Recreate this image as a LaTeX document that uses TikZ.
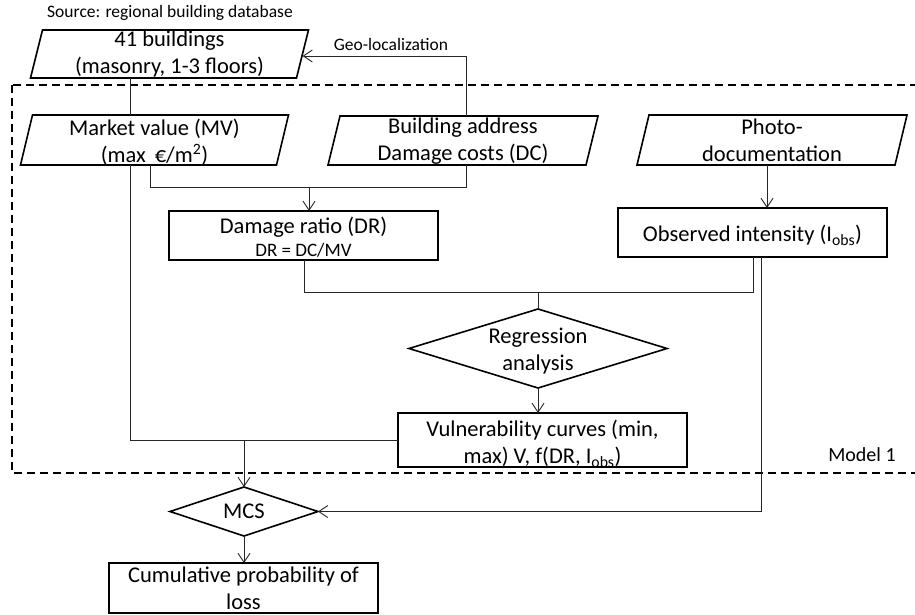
\documentclass[tikz,border=0pt]{standalone}
\usepackage{fontspec}
\setmainfont{Carlito}
\usetikzlibrary{arrows.meta}
\newcommand\fmain{\fontsize{22.5}{27}\selectfont}
\newcommand\fsmall{\fontsize{17.5}{20}\selectfont}
\newcommand\fdr{\fontsize{19}{23}\selectfont}
\newcommand\fmodel{\fontsize{20}{22}\selectfont}
\begin{document}
\begin{tikzpicture}[x=1pt,y=-1pt,
  boxline/.style={line width=1.6pt},
  conn/.style={line width=0.9pt, draw=black!85},
  arr/.style={-{Straight Barb[length=9pt,width=12pt,line width=0.9pt]}},
  frame/.style={line width=1.6pt, dash pattern=on 8pt off 5pt},
  btxt/.style={align=center, inner sep=0pt, outer sep=0pt, font=\fmain},
  pnode/.style={inner sep=0pt, outer sep=0pt},
  rbox/.style={draw, line width=1.6pt, inner sep=0pt, outer sep=0pt},
  dnode/.style={inner sep=0pt, outer sep=0pt},
  txt/.style={inner sep=0pt, outer sep=0pt}]
\useasboundingbox (0,0) rectangle (915,615);
\clip (0,0) rectangle (915,615);

% dashed model frame
\draw[frame] (12,85) rectangle (935,473);

% nodes
\node[txt, font=\fsmall] (src) at (170,13) {Source: regional building database};
\node[pnode, minimum width=266pt, minimum height=48pt,
  label={[btxt]center:{41 buildings\\(masonry, 1-3 floors)}}] (b41) at (169.5,54) {};
\node[pnode, minimum width=256pt, minimum height=50pt,
  label={[btxt,yshift=-2pt]center:{Market value (MV)\\(max \,€/m\textsuperscript{2})}}] (mv) at (154.5,140) {};
\node[pnode, minimum width=258pt, minimum height=49pt,
  label={[btxt,yshift=-1pt]center:{Building address\\Damage costs (DC)}}] (ba) at (463,140.5) {};
\node[pnode, minimum width=258pt, minimum height=50pt,
  label={[btxt]center:{Photo-\\documentation}}] (pd) at (772,140) {};
\node[rbox, minimum width=269pt, minimum height=49pt,
  label={[btxt,yshift=-2pt]center:{Damage ratio (DR)\\[-4pt]{\fdr DR = DC/MV}}}] (dr) at (303.5,235.5) {};
\node[rbox, minimum width=269pt, minimum height=49pt,
  label={[btxt,yshift=-3pt]center:{Observed intensity (I\textsubscript{obs})}}] (oi) at (752.5,232.5) {};
\node[dnode, minimum width=258pt, minimum height=79pt,
  label={[btxt,yshift=-3pt]center:{Regression\\analysis}}] (ra) at (538,348.5) {};
\node[rbox, minimum width=289pt, minimum height=54pt,
  label={[btxt,yshift=-3.5pt]center:{Vulnerability curves (min,\\max) V, f(DR, I\textsubscript{obs})}}] (vc) at (542.5,440) {};
\node[dnode, minimum width=148pt, minimum height=49pt,
  label={[btxt]center:{MCS}}] (mcs) at (244,511.5) {};
\node[rbox, minimum width=269pt, minimum height=50pt,
  label={[btxt]center:{Cumulative probability of\\loss}}] (cp) at (243.5,588) {};
\node[txt, font=\fsmall] (geo) at (391,44) {Geo-localization};
\node[txt, font=\fmodel] (m1) at (862,455) {Model 1};

% parallelograms and diamonds
\foreach \n in {b41,mv,ba,pd}
  \draw[boxline] ([xshift=6pt]\n.north west) -- ([xshift=6pt]\n.north east) -- ([xshift=-6pt]\n.south east) -- ([xshift=-6pt]\n.south west) -- cycle;
\foreach \n in {ra,mcs}
  \draw[boxline] (\n.north) -- (\n.east) -- (\n.south) -- (\n.west) -- cycle;

% helper coordinates
\coordinate (xa) at (130,0);
\coordinate (xb) at (150,0);
\coordinate (xc) at (466,0);
\coordinate (xd) at (309,0);
\coordinate (xe) at (304,0);
\coordinate (xf) at (753,0);
\coordinate (xg) at (761,0);
\coordinate (xh) at (767,0);
\coordinate (yg) at (0,56);
\coordinate (ym) at (0,187);
\coordinate (yr) at (0,292);

% connectors
\draw[conn] (b41.south -| xa) -- (mv.north -| xa);
\draw[conn,arr] (ba.north -| xc) -- (xc |- yg) -- (b41.east |- yg);
\draw[conn] (mv.south -| xb) -- (xb |- ym) -- (xc |- ym) -- (ba.south -| xc);
\draw[conn,arr] (xd |- ym) -- (dr.north -| xd);
\draw[conn] (mv.south -| xa) -- (xa |- vc.west) -- (vc.west);
\draw[conn,arr] (mcs.north |- vc.west) -- (mcs.north);
\draw[conn] (dr.south -| xe) -- (xe |- yr) -- (xf |- yr) -- (oi.south -| xf);
\draw[conn] (ra.north |- yr) -- (ra.north);
\draw[conn,arr] (pd.south -| xh) -- (oi.north -| xh);
\draw[conn,arr] (ra.south) -- (ra.south |- vc.north);
\draw[conn,arr] (oi.south -| xg) -- (xg |- mcs.east) -- (mcs.east);
\draw[conn,arr] (mcs.south) -- (mcs.south |- cp.north);
\end{tikzpicture}
\end{document}
